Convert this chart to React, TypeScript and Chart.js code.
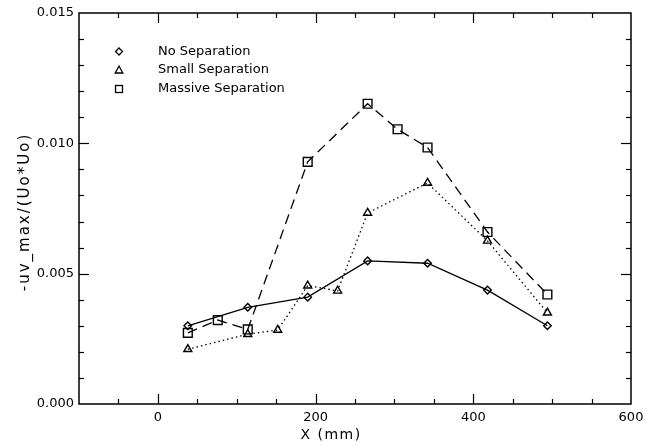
import { useEffect, useRef } from "react";
import { Chart, registerables } from "chart.js";

Chart.register(...registerables);

// ---- data ----
const seriesLabels = ["No Separation", "Small Separation", "Massive Separation"];

const xNoSep = [38, 114, 190, 266, 342, 418, 494];
const yNoSep = [0.0030, 0.00371, 0.0041, 0.00549, 0.0054, 0.00437, 0.0030];

const xSmall = [38, 114, 152, 190, 228, 266, 342, 418, 494];
const ySmall = [0.0021, 0.00268, 0.00284, 0.00454, 0.00434, 0.00733, 0.00848, 0.00626, 0.0035];

const xMassive = [38, 76, 114, 190, 266, 304, 342, 418, 494];
const yMassive = [0.00273, 0.00322, 0.00286, 0.00929, 0.01152, 0.01054, 0.00984, 0.0066, 0.0042];

const xTickValues = [0, 200, 400, 600];
const yTickValues = [0, 0.005, 0.01, 0.015];
const xMinorStep = 50;
const yMinorStep = 0.001;

const xTitle = "X (mm)";
const yTitle = "-uv_max/(Uo*Uo)";

const FONT = "'DejaVu Sans', sans-serif";

function toPoints(xs: number[], ys: number[]) {
  return xs.map((x, i) => ({ x, y: ys[i] }));
}

const framePlugin = {
  id: "frame",
  afterDraw(chart: any) {
    const { ctx, chartArea, scales } = chart;
    const { left, right, top, bottom } = chartArea;
    const xs = scales.x;
    const ys = scales.y;
    ctx.save();
    ctx.strokeStyle = "#000";
    ctx.lineWidth = 1.5;
    ctx.strokeRect(left, top, right - left, bottom - top);
    ctx.lineWidth = 1.2;
    const seg = (x1: number, y1: number, x2: number, y2: number) => {
      ctx.beginPath();
      ctx.moveTo(x1, y1);
      ctx.lineTo(x2, y2);
      ctx.stroke();
    };
    const xmin = xs.min, xmax = xs.max;
    const nX = Math.round((xmax - xmin) / xMinorStep);
    for (let i = 1; i < nX; i++) {
      const v = xmin + i * xMinorStep;
      const px = Math.round(xs.getPixelForValue(v)) + 0.5;
      const major = xTickValues.some((t) => Math.abs(t - v) < 1e-9);
      const len = major ? 10 : 5;
      seg(px, bottom, px, bottom - len);
      seg(px, top, px, top + len);
    }
    const ymin = ys.min, ymax = ys.max;
    const nY = Math.round((ymax - ymin) / yMinorStep);
    for (let i = 1; i < nY; i++) {
      const v = ymin + i * yMinorStep;
      const py = Math.round(ys.getPixelForValue(v)) + 0.5;
      const major = yTickValues.some((t) => Math.abs(t - v) < 1e-9);
      const len = major ? 10 : 5;
      seg(left, py, left + len, py);
      seg(right, py, right - len, py);
    }
    ctx.restore();
  },
};

const titlePlugin = {
  id: "axisTitles",
  afterDraw(chart: any) {
    const { ctx } = chart;
    ctx.save();
    ctx.fillStyle = "#000";
    ctx.textAlign = "center";
    ctx.textBaseline = "middle";
    // x title
    ctx.save();
    ctx.font = `14px ${FONT}`;
    (ctx as any).letterSpacing = "1.5px";
    ctx.fillText(xTitle, 331, 435);
    ctx.restore();
    // y title
    ctx.save();
    ctx.font = `15px ${FONT}`;
    (ctx as any).letterSpacing = "2px";
    ctx.translate(25, 212);
    ctx.rotate(-Math.PI / 2);
    ctx.fillText(yTitle, 0, 0);
    ctx.restore();
    ctx.restore();
  },
};

const legendPlugin = {
  id: "customLegend",
  afterDraw(chart: any) {
    const { ctx } = chart;
    ctx.save();
    ctx.strokeStyle = "#000";
    ctx.fillStyle = "#000";
    ctx.lineWidth = 1.3;
    const mx = 119;
    const rows = [51.5, 70, 89];
    let cy = rows[0];
    ctx.beginPath();
    ctx.moveTo(mx, cy - 3.5);
    ctx.lineTo(mx + 3.5, cy);
    ctx.lineTo(mx, cy + 3.5);
    ctx.lineTo(mx - 3.5, cy);
    ctx.closePath();
    ctx.stroke();
    cy = rows[1];
    ctx.beginPath();
    ctx.moveTo(mx, cy - 4);
    ctx.lineTo(mx + 3.8, cy + 3);
    ctx.lineTo(mx - 3.8, cy + 3);
    ctx.closePath();
    ctx.stroke();
    cy = rows[2];
    ctx.strokeRect(mx - 3.5, cy - 3.5, 7, 7);
    ctx.font = `13px ${FONT}`;
    ctx.textBaseline = "middle";
    ctx.textAlign = "left";
    seriesLabels.forEach((lab, i) => ctx.fillText(lab, 158, rows[i]));
    ctx.restore();
  },
};

export default function App() {
  const ref = useRef<HTMLCanvasElement | null>(null);
  useEffect(() => {
    if (!ref.current) return;
    const chart = new Chart(ref.current, {
      type: "line",
      data: {
        datasets: [
          {
            label: seriesLabels[0],
            data: toPoints(xNoSep, yNoSep),
            borderColor: "#000",
            borderWidth: 1.3,
            pointStyle: "rectRot",
            pointRadius: 3.8,
            pointBorderWidth: 1.4,
            pointBackgroundColor: "rgba(0,0,0,0)",
            pointBorderColor: "#000",
            fill: false,
            tension: 0,
          },
          {
            label: seriesLabels[1],
            data: toPoints(xSmall, ySmall),
            borderColor: "#000",
            borderWidth: 1.3,
            borderDash: [1.5, 3],
            pointStyle: "triangle",
            pointRadius: 4.6,
            pointBorderWidth: 1.4,
            pointBackgroundColor: "rgba(0,0,0,0)",
            pointBorderColor: "#000",
            fill: false,
            tension: 0,
          },
          {
            label: seriesLabels[2],
            data: toPoints(xMassive, yMassive),
            borderColor: "#000",
            borderWidth: 1.3,
            borderDash: [10, 6],
            pointStyle: "rect",
            pointRadius: 6.2,
            pointBorderWidth: 1.4,
            pointBackgroundColor: "rgba(0,0,0,0)",
            pointBorderColor: "#000",
            fill: false,
            tension: 0,
          },
        ],
      },
      options: {
        animation: false,
        responsive: true,
        maintainAspectRatio: false,
        layout: { padding: { top: 13, right: 28, left: 0, bottom: 0 } },
        plugins: { legend: { display: false }, tooltip: { enabled: false } },
        scales: {
          x: {
            type: "linear",
            min: -100,
            max: 600,
            grid: { display: false, drawTicks: false },
            border: { display: false },
            afterBuildTicks: (axis: any) => {
              axis.ticks = xTickValues.map((v) => ({ value: v }));
            },
            afterFit: (axis: any) => {
              axis.height = 38;
            },
            ticks: {
              color: "#000",
              font: { family: FONT, size: 13 },
              padding: 6,
              maxRotation: 0,
              callback: (v: any) => String(v),
            },
            title: { display: false },
          },
          y: {
            type: "linear",
            min: 0,
            max: 0.015,
            grid: { display: false, drawTicks: false },
            border: { display: false },
            afterBuildTicks: (axis: any) => {
              axis.ticks = yTickValues.map((v) => ({ value: v }));
            },
            afterFit: (axis: any) => {
              axis.width = 79;
            },
            ticks: {
              color: "#000",
              font: { family: FONT, size: 13 },
              padding: 5,
              callback: (v: any) => Number(v).toFixed(3),
            },
            title: { display: false },
          },
        },
      },
      plugins: [framePlugin, legendPlugin, titlePlugin],
    });
    return () => chart.destroy();
  }, []);
  return (
    <div style={{ position: "absolute", left: 0, top: 0, width: 659, height: 442, background: "#fff" }}>
      <canvas ref={ref} />
    </div>
  );
}
